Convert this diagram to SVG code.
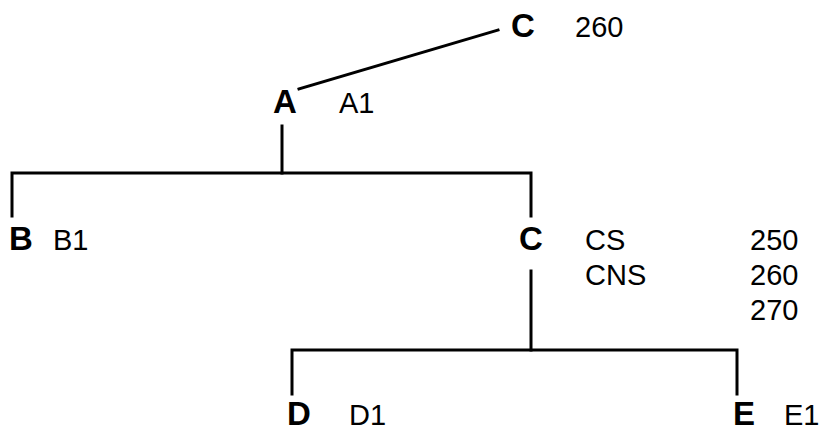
<svg xmlns="http://www.w3.org/2000/svg" width="827" height="432" viewBox="0 0 827 432">
<style>
.n{font-family:"Liberation Sans",Arial,sans-serif;font-weight:bold;font-size:33px;fill:#000}
.t{font-family:"Liberation Sans",Arial,sans-serif;font-size:29px;fill:#000}
.e{stroke:#000;stroke-width:3;fill:none;stroke-linecap:square}
</style>
<rect width="827" height="432" fill="#fff"/>
<g id="connectors">
<line class="e" x1="299" y1="89" x2="498" y2="30"/>
<polyline class="e" points="282,126 282,173"/>
<polyline class="e" points="12,216 12,173 531,173 531,216"/>
<polyline class="e" points="531,271 531,350"/>
<polyline class="e" points="292,394 292,350 737,350 737,394"/>
</g>
<g id="node-C-top"><text class="n" x="511" y="37">C</text><text class="t" x="575" y="37">260</text></g>
<g id="node-A"><text class="n" x="273" y="113">A</text><text class="t" x="339" y="113">A1</text></g>
<g id="node-B"><text class="n" x="9" y="250">B</text><text class="t" x="53" y="250">B1</text></g>
<g id="node-C"><text class="n" x="519" y="250">C</text><text class="t" x="585" y="250">CS</text><text class="t" x="585" y="285">CNS</text><text class="t" x="750" y="250">250</text><text class="t" x="750" y="285">260</text><text class="t" x="750" y="320">270</text></g>
<g id="node-D"><text class="n" x="287" y="425">D</text><text class="t" x="349" y="425">D1</text></g>
<g id="node-E"><text class="n" x="733" y="425">E</text><text class="t" x="784" y="425">E1</text></g>
</svg>
